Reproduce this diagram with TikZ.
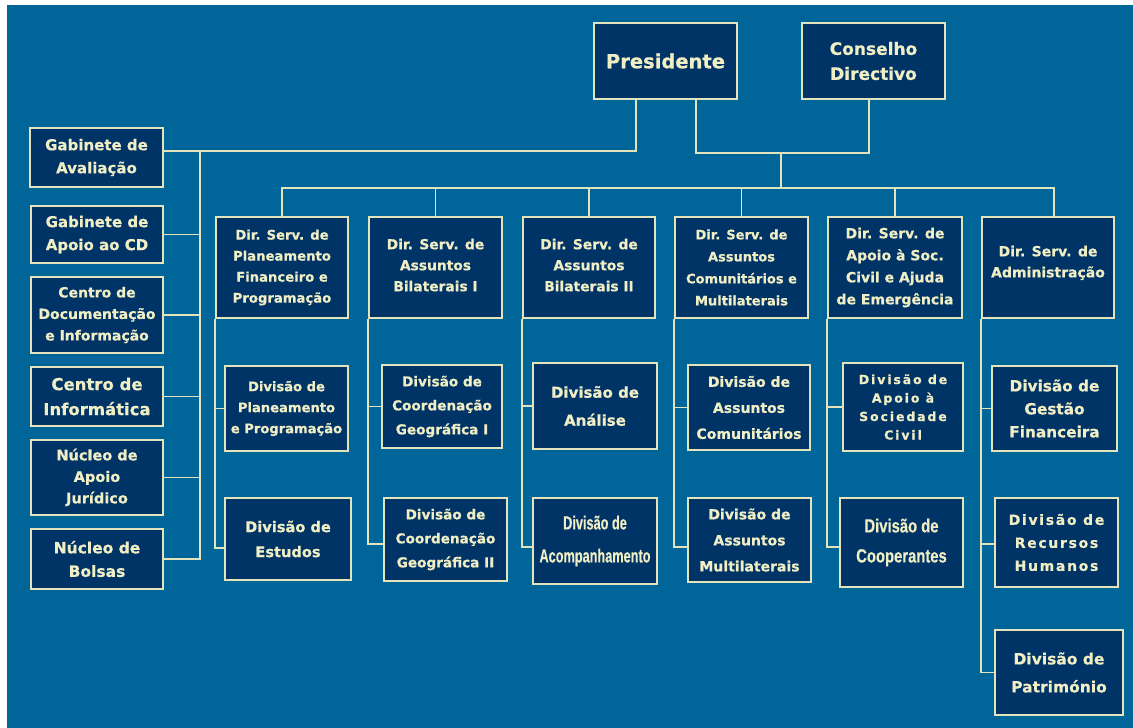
\documentclass[tikz,border=0pt]{standalone}
\usepackage{fontspec}
\setmainfont{DejaVu Sans}[BoldFeatures={FakeBold=0.6}]
\newfontfamily\narrowA[FakeStretch=0.67,BoldFeatures={FakeBold=0.3}]{Liberation Sans}
\newfontfamily\narrowB[FakeStretch=0.78,BoldFeatures={FakeBold=0.3}]{Liberation Sans}
\newfontfamily\spacedA[LetterSpace=15,BoldFeatures={FakeBold=0.6}]{DejaVu Sans}
\newfontfamily\spacedB[LetterSpace=12,BoldFeatures={FakeBold=0.6}]{DejaVu Sans}
\newcommand\bxf[2]{\bfseries\fontsize{#1}{#2}\selectfont}
\definecolor{bgblue}{HTML}{006699}
\definecolor{boxblue}{HTML}{003366}
\definecolor{cream}{HTML}{E4E4BC}
\definecolor{txt}{HTML}{F0EEC4}
\begin{document}
\begin{tikzpicture}[x=1pt,y=-1pt,
  box/.style={draw=cream, fill=boxblue, line width=1.6pt, text=txt, align=center, inner sep=0pt},
  link/.style={draw=cream, line width=1.8pt}]
\useasboundingbox (0,0) rectangle (1133,728);
\fill[white] (0,0) rectangle (1133,728);
\fill[bgblue] (7,5) rectangle (1133,728);

% top
\node[box, minimum width=143pt, minimum height=76pt, font=\bxf{19.5}{24}] (pres) at (665.5,61) {Presidente};
\node[box, minimum width=143pt, minimum height=76pt, font=\bxf{17}{25}] (cons) at (873.5,61) {Conselho\\Directivo};

% left column
\node[box, minimum width=133pt, minimum height=59pt, font=\bxf{15}{23}] (gav) at (96.5,157.5) {Gabinete de\\Avaliação};
\node[box, minimum width=132pt, minimum height=57pt, font=\bxf{15}{23}] (gcd) at (97,234.5) {Gabinete de\\Apoio ao CD};
\node[box, minimum width=132pt, minimum height=76pt, font=\bxf{14}{21.5}] (cdi) at (97,315) {Centro de\\Documentação\\e Informação};
\node[box, minimum width=132pt, minimum height=59pt, font=\bxf{16.5}{25}] (cinf) at (97,396.5) {Centro de\\Informática};
\node[box, minimum width=132pt, minimum height=75pt, font=\bxf{14.5}{21.5}] (naj) at (97,477.5) {Núcleo de\\Apoio\\Jurídico};
\node[box, minimum width=132pt, minimum height=60pt, font=\bxf{15.5}{23.5}] (nb) at (97,559) {Núcleo de\\Bolsas};

% directorates
\node[box, minimum width=132pt, minimum height=101pt, font=\bxf{13.2}{21}] (d1) at (282,267.5) {Dir. Serv. de\\Planeamento\\Financeiro e\\Programação};
\node[box, minimum width=133pt, minimum height=101pt, font=\bxf{13.8}{21}] (d2) at (435.5,267.5) {Dir. Serv. de\\Assuntos\\Bilaterais I\\[-16pt]\mbox{}};
\node[box, minimum width=132pt, minimum height=101pt, font=\bxf{13.8}{21}] (d3) at (589,267.5) {Dir. Serv. de\\Assuntos\\Bilaterais II\\[-16pt]\mbox{}};
\node[box, minimum width=133pt, minimum height=101pt, font=\bxf{13}{22}] (d4) at (741.5,267.5) {Dir. Serv. de\\Assuntos\\Comunitários e\\Multilaterais};
\node[box, minimum width=134pt, minimum height=101pt, font=\bxf{14}{22}] (d5) at (895,267.5) {Dir. Serv. de\\Apoio à Soc.\\Civil e Ajuda\\de Emergência};
\node[box, minimum width=132pt, minimum height=101pt, font=\bxf{14}{21}, text depth=12pt] (d6) at (1048,267.5) {Dir. Serv. de\\Administração};

% divisions
\node[box, minimum width=123pt, minimum height=85pt, font=\bxf{13.1}{21}] (s11) at (286.5,408.5) {Divisão de\\Planeamento\\e Programação};
\node[box, minimum width=126pt, minimum height=82pt, font=\bxf{14.6}{25}] (s12) at (288,539) {Divisão de\\Estudos};
\node[box, minimum width=120pt, minimum height=83pt, font=\bxf{13.6}{24}] (s21) at (442,406.5) {Divisão de\\Coordenação\\Geográfica I};
\node[box, minimum width=123pt, minimum height=83pt, font=\bxf{13.6}{24}] (s22) at (445.5,539.5) {Divisão de\\Coordenação\\Geográfica II};
\node[box, minimum width=124pt, minimum height=86pt, font=\bxf{15}{28}] (s31) at (595,406) {Divisão de\\Análise};
\node[box, minimum width=124pt, minimum height=86pt, font={\narrowA\bxf{19}{33}}] (s32) at (595,541) {Divisão de\\Acompanhamento};
\node[box, minimum width=122pt, minimum height=85pt, font=\bxf{14}{26}] (s41) at (749,407.5) {Divisão de\\Assuntos\\Comunitários};
\node[box, minimum width=123pt, minimum height=84pt, font=\bxf{14}{26}] (s42) at (749.5,540) {Divisão de\\Assuntos\\Multilaterais};
\node[box, minimum width=120pt, minimum height=88pt, font={\spacedA\bxf{12.5}{18.5}}] (s51) at (903,407) {Divisão de\\Apoio à\\Sociedade\\Civil};
\node[box, minimum width=123pt, minimum height=89pt, font={\narrowB\bxf{19}{30}}] (s52) at (901.5,542.5) {Divisão de\\Cooperantes};
\node[box, minimum width=125pt, minimum height=85pt, font=\bxf{15.3}{23}] (s61) at (1054.5,408.5) {Divisão de\\Gestão\\Financeira};
\node[box, minimum width=123pt, minimum height=89pt, font={\spacedB\bxf{14}{23}}] (s62) at (1056.5,542.5) {Divisão de\\Recursos\\Humanos};
\node[box, minimum width=128pt, minimum height=85pt, font=\bxf{15.5}{28}] (s63) at (1059,672.5) {Divisão de\\Património};

% connectors: top
\coordinate (mid) at (781,153);
\coordinate (bus) at (781,188);
\coordinate (lx) at (200,151);
\draw[link] ([xshift=-29.5pt]pres.south) |- ([yshift=6.5pt]gav.east);
\draw[link] ([xshift=30.5pt]pres.south) |- (mid) -| ([xshift=-4.5pt]cons.south);
\draw[link] (mid) -- (bus);
\draw[link] (d1.north) |- (bus) -| ([xshift=6pt]d6.north);
\foreach \d in {d2,d3,d4,d5} \draw[link] (\d.north) -- (\d.north |- bus);

% connectors: left
\draw[link] (lx) |- (nb.east);
\foreach \n in {gcd,cdi,cinf,naj} \draw[link] (\n.east) -- (\n.east -| lx);

% connectors: divisions
\draw[link] (d1.south west) |- ([yshift=-9pt]s12.west);
\draw[link] (s11.west -| d1.south west) -- (s11.west);
\draw[link] (d2.south west) |- ([yshift=-4.5pt]s22.west);
\draw[link] (s21.west -| d2.south west) -- (s21.west);
\draw[link] (d3.south west) |- ([yshift=-6pt]s32.west);
\draw[link] (s31.west -| d3.south west) -- (s31.west);
\draw[link] (d4.south west) |- ([yshift=-7pt]s42.west);
\draw[link] (s41.west -| d4.south west) -- (s41.west);
\draw[link] (d5.south west) |- ([yshift=-4.5pt]s52.west);
\draw[link] (s51.west -| d5.south west) -- (s51.west);
\draw[link] (d6.south west) |- (s63.west);
\draw[link] (s61.west -| d6.south west) -- (s61.west);
\draw[link] ([yshift=-1.5pt]s62.west -| d6.south west) -- ([yshift=-1.5pt]s62.west);
\end{tikzpicture}
\end{document}
